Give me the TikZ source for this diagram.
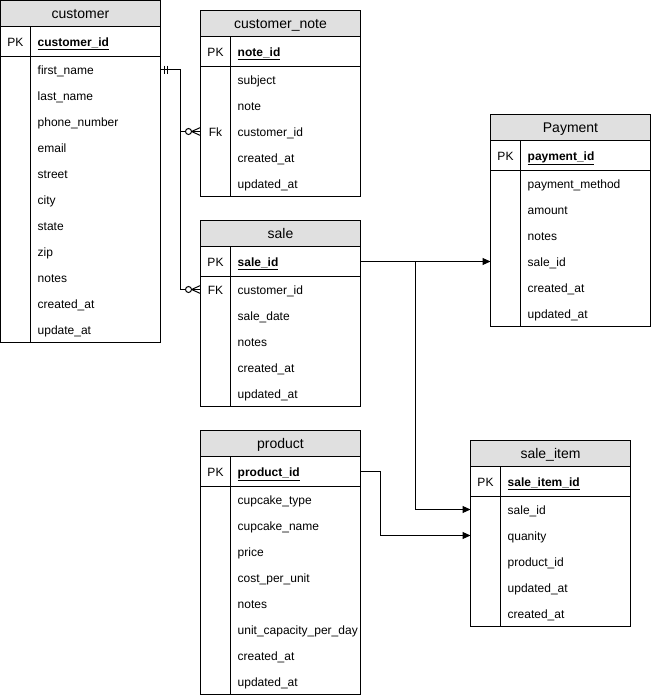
\documentclass[tikz,border=0pt]{standalone}
\usepackage{fontspec}
\setmainfont{Liberation Sans}
\usetikzlibrary{arrows.meta}
\definecolor{hdr}{RGB}{224,224,224}
\tikzset{
  erline/.style={line width=1pt, draw=black},
  ttltext/.style={font=\fontsize{14}{16}\selectfont, inner sep=0pt, text height=10pt, text depth=3pt, yshift=-1.5pt},
  fieldtext/.style={font=\fontsize{12}{14}\selectfont, inner sep=0pt, anchor=west, text height=9pt, text depth=3pt, yshift=-1.5pt},
  pktext/.style={fieldtext, font=\fontsize{12}{14}\selectfont\bfseries},
  keytext/.style={font=\fontsize{12}{14}\selectfont, inner sep=0pt, text height=9pt, text depth=3pt, yshift=-1.5pt},
  conn/.style={line width=1pt},
  arr/.style={conn, -{Triangle[length=8pt,width=7pt]}},
}
% #1 id, #2 x, #3 y, #4 title, #5 pk, #6 number of fields, #7 list key/name
\newcommand\ertab[7]{%
  \pgfmathsetmacro\tbot{#3+56+26*#6}%
  \draw[erline] (#2,#3) rectangle (#2+160,\tbot);
  \filldraw[erline, fill=hdr] (#2,#3) rectangle (#2+160,#3+26);
  \draw[erline] (#2,#3+56) -- (#2+160,#3+56);
  \draw[erline] (#2+30,#3+26) -- (#2+30,\tbot);
  \node[ttltext] (#1) at (#2+80,#3+13) {#4};
  \node[keytext] (#1-pkk) at (#2+15,#3+41) {PK};
  \node[pktext] (#1-pk) at (#2+37,#3+41) {\underline{#5}};
  \coordinate (#1-pk-r) at (#2+160,#3+41);
  \coordinate (#1-pk-l) at (#2,#3+41);
  \foreach[count=\i] \k/\f in {#7}{%
    \node[fieldtext] (#1-\i) at (#2+37,#3+43+26*\i) {\f};
    \node[keytext] (#1-k\i) at (#2+15,#3+43+26*\i) {\k};
    \coordinate (#1-\i-r) at (#2+160,#3+43+26*\i);
    \coordinate (#1-\i-l) at (#2,#3+43+26*\i);
  }%
}
\newcommand\zeromany[1]{%
  \draw[conn] ([xshift=-9pt]#1) -- ([shift={(0,-4)}]#1);
  \draw[conn] ([xshift=-9pt]#1) -- ([shift={(0,4)}]#1);
  \filldraw[conn, fill=white] ([xshift=-12pt]#1) circle (3pt);
}
\newcommand\onlyone[1]{%
  \draw[conn] ([shift={(4,-4)}]#1) -- ([shift={(4,4)}]#1);
  \draw[conn] ([shift={(7,-4)}]#1) -- ([shift={(7,4)}]#1);
}
\begin{document}
\begin{tikzpicture}[x=1pt,y=-1pt]
\useasboundingbox (0,0) rectangle (651,697);
\ertab{cust}{0.5}{0.5}{customer}{customer\_id}{11}{{}/first\_name,{}/last\_name,{}/phone\_number,{}/email,{}/street,{}/city,{}/state,{}/zip,{}/notes,{}/created\_at,{}/update\_at}
\ertab{cnote}{200.5}{10.5}{customer\_note}{note\_id}{5}{{}/subject,{}/note,Fk/customer\_id,{}/created\_at,{}/updated\_at}
\ertab{pay}{490.5}{114.5}{Payment}{payment\_id}{6}{{}/payment\_method,{}/amount,{}/notes,{}/sale\_id,{}/created\_at,{}/updated\_at}
\ertab{sale}{200.5}{220.5}{sale}{sale\_id}{5}{FK/customer\_id,{}/sale\_date,{}/notes,{}/created\_at,{}/updated\_at}
\ertab{prod}{200.5}{430.5}{product}{product\_id}{8}{{}/cupcake\_type,{}/cupcake\_name,{}/price,{}/cost\_per\_unit,{}/notes,{}/unit\_capacity\_per\_day,{}/created\_at,{}/updated\_at}
\ertab{sitem}{470.5}{440.5}{sale\_item}{sale\_item\_id}{5}{{}/sale\_id,{}/quanity,{}/product\_id,{}/updated\_at,{}/created\_at}
% customer -> customer_note, sale
\draw[conn] (cust-1-r) -- ++(20,0) |- (cnote-3-l);
\draw[conn] (cust-1-r) -- ++(20,0) |- (sale-1-l);
\onlyone{cust-1-r}
\zeromany{cnote-3-l}
\zeromany{sale-1-l}
% sale -> payment, sale_item
\draw[arr] (sale-pk-r) -- (pay-4-l);
\draw[arr] (sale-pk-r) -- ++(55,0) |- (sitem-1-l);
% product -> sale_item
\draw[arr] (prod-pk-r) -- ++(20,0) |- (sitem-2-l);
\end{tikzpicture}
\end{document}
